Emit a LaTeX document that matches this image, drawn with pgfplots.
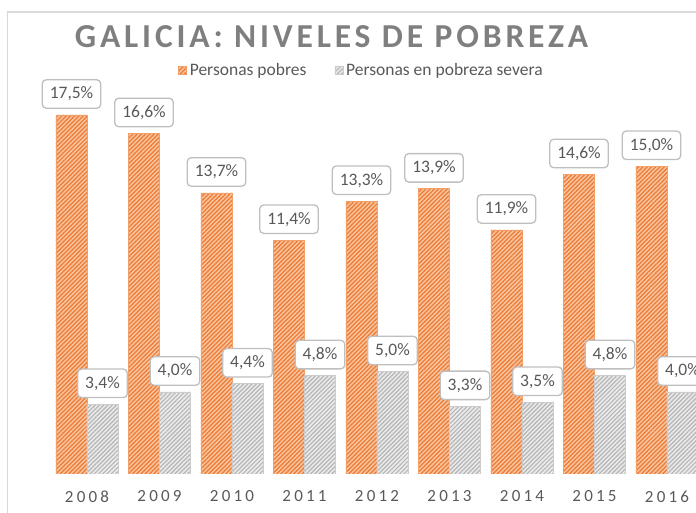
\documentclass[border=0pt]{standalone}
\usepackage{fontspec}
\setmainfont{Carlito}
\newfontfamily\titlefont[LetterSpace=11.5]{Carlito}
\newfontfamily\tickfont[LetterSpace=19]{Carlito}
\usepackage{pgfplots}
\pgfplotsset{compat=1.18}
\usetikzlibrary{patterns.meta}
\definecolor{orlight}{HTML}{F9C8A4}
\definecolor{ordark}{HTML}{EE7F3A}
\definecolor{oredge}{HTML}{F2A068}
\definecolor{grlight}{HTML}{EBEBEB}
\definecolor{grdark}{HTML}{B5B5B5}
\definecolor{gredge}{HTML}{CCCCCC}
\definecolor{txtgray}{HTML}{595959}
\definecolor{titlegray}{HTML}{7F7F7F}
\definecolor{boxgray}{HTML}{BFBFBF}
\definecolor{framegray}{HTML}{D9D9D9}
\begin{document}
\begin{tikzpicture}
\draw[framegray, line width=1.3pt] (7.5pt,-5pt) -- (7.5pt,501pt) -- (705pt,501pt);
\begin{axis}[
  at={(0pt,39pt)}, anchor=south west,
  scale only axis, width=696pt, height=410.4pt,
  xmin=-1.2, xmax=8.4, ymin=0, ymax=20,
  axis line style={draw=none},
  ybar=0pt, bar width=31pt,
  ytick=\empty,
  xtick={0,...,8},
  xticklabels={2008,2009,2010,2011,2012,2013,2014,2015,2016},
  major tick length=0pt,
  xticklabel style={anchor=center, yshift=-22.5pt, text=txtgray, font=\tickfont\fontsize{17pt}{20pt}\selectfont},
  /pgf/number format/assume math mode=true,
  nodes near coords={\pgfmathprintnumber[fixed,fixed zerofill,precision=1,use comma]{\pgfplotspointmeta}\%},
  every node near coord/.append style={font=\fontsize{17.5pt}{20pt}\selectfont, text=txtgray, fill=white, draw=boxgray, line width=1.3pt, rounded corners=4pt, inner xsep=7.5pt, minimum height=28.5pt, anchor=south, yshift=6pt},
  legend columns=2,
  legend style={at={(0.52,0.984)}, anchor=center, draw=none, fill=none, font=\fontsize{17.5pt}{20pt}\selectfont, text=txtgray,
    /tikz/every even column/.append style={column sep=25pt},
    nodes={inner sep=3pt}},
  legend image code/.code={\path[#1] (0pt,-4pt) rectangle (8pt,4pt);},
]
\addplot[fill=orlight, draw=oredge, line width=0.6pt, postaction={pattern={Lines[angle=45,distance=3pt,line width=1.4pt]}, pattern color=ordark}]
  coordinates {(0,17.5) (1,16.6) (2,13.7) (3,11.4) (4,13.3) (5,13.9) (6,11.9) (7,14.6) (8,15.0)};
\addlegendentry{Personas pobres}
\addplot[fill=grlight, draw=gredge, line width=0.6pt, postaction={pattern={Lines[angle=45,distance=3pt,line width=1.2pt]}, pattern color=grdark}]
  coordinates {(0,3.4) (1,4.0) (2,4.4) (3,4.8) (4,5.0) (5,3.3) (6,3.5) (7,4.8) (8,4.0)};
\addlegendentry{Personas en pobreza severa}
\end{axis}
\node[text=titlegray, font=\titlefont\bfseries\fontsize{33.5pt}{38pt}\selectfont, anchor=center] at (331.5pt,476pt) {GALICIA: NIVELES DE POBREZA};
\pgfresetboundingbox
\useasboundingbox (0pt,0pt) rectangle (696pt,513pt);
\end{tikzpicture}
\end{document}
